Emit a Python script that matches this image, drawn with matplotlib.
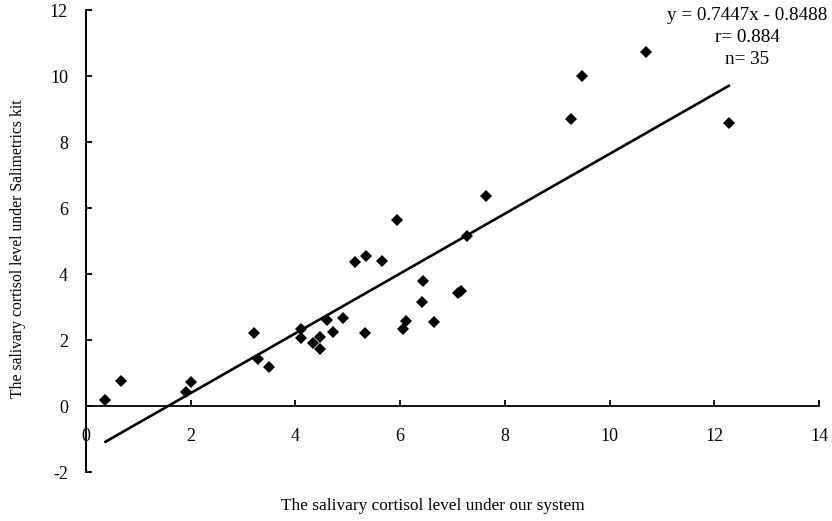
import numpy as np
import matplotlib
matplotlib.use("Agg")
import matplotlib.pyplot as plt

# -----------------------------
# DATA
# -----------------------------
our_system = [0.36, 0.67, 1.91, 2.01, 3.20, 3.29, 3.50, 4.10, 4.11, 4.33, 4.47,
              4.46, 4.61, 4.71, 4.90, 5.14, 5.34, 5.65, 5.33, 5.94, 6.05, 6.12,
              6.41, 6.43, 6.65, 7.11, 7.16, 7.27, 7.64, 9.26, 9.47, 10.70, 12.28]
salimetrics = [0.18, 0.75, 0.42, 0.73, 2.20, 1.42, 1.17, 2.33, 2.05, 1.90, 2.10,
               1.72, 2.61, 2.25, 2.67, 4.35, 4.55, 4.39, 2.20, 5.64, 2.32, 2.58,
               3.16, 3.79, 2.55, 3.42, 3.49, 5.16, 6.36, 8.70, 10.00, 10.73, 8.58]

# trend line as drawn in the picture
trend_slope = 0.906
trend_intercept = -1.42
trend_x = [0.35, 12.30]

eq_text = "y = 0.7447x - 0.8488\nr= 0.884\nn= 35"
x_ticks = [0, 2, 4, 6, 8, 10, 12, 14]
y_ticks = [-2, 0, 2, 4, 6, 8, 10, 12]
# -----------------------------

plt.rcParams['font.family'] = ['Liberation Serif', 'DejaVu Serif']
plt.rcParams['font.size'] = 13
plt.rcParams['axes.unicode_minus'] = False

fig = plt.figure(figsize=(8.32, 5.21), dpi=100)
ax = fig.add_axes([0.1034, 0.094, 0.881, 0.8868])

ax.plot(our_system, salimetrics, linestyle='none', marker='D', markersize=5.8,
        color='black', markeredgewidth=0)

tx = np.array(trend_x)
ax.plot(tx, trend_slope * tx + trend_intercept, color='black', linewidth=1.9,
        solid_capstyle='butt')

ax.set_xlim(0, 14)
ax.set_ylim(-2, 12)
ax.set_xticks(x_ticks)
ax.set_yticks(y_ticks)

# spines: left one full height, bottom one crossing at y = 0
ax.spines['top'].set_visible(False)
ax.spines['right'].set_visible(False)
ax.spines['bottom'].set_position(('data', 0))
ax.spines['left'].set_linewidth(1.4)
ax.spines['bottom'].set_linewidth(1.3)

ax.tick_params(axis='x', direction='in', length=4, width=1.3, pad=16)
ax.tick_params(axis='y', direction='in', length=4, width=1.3, pad=13)

fig.text(0.52, 0.029, "The salivary cortisol level under our system",
         ha='center', va='center', fontsize=12.4)
fig.text(0.022, 0.522, "The salivary cortisol level under Salimetrics kit",
         ha='center', va='center', rotation=90, fontsize=11.3)

fig.text(747 / 832, 1 - 7 / 521, eq_text, ha='center', va='top',
         multialignment='center', fontsize=13.8, linespacing=1.4)

fig.savefig("out.png", dpi=100)
